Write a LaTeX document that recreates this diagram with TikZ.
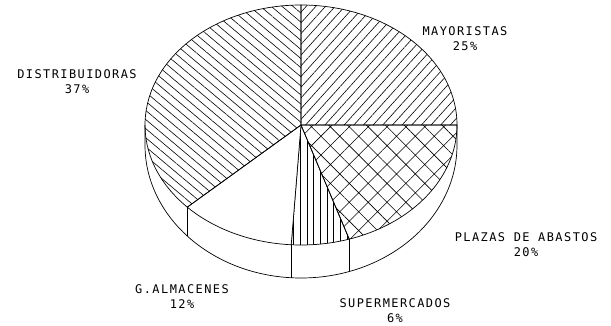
\documentclass[tikz,border=0pt]{standalone}
\usepackage{fontspec}
\usetikzlibrary{calc,patterns.meta}
\newfontfamily\plotfont[LetterSpace=12]{DejaVu Sans Mono}
\tikzset{
  slice/.style    = {draw, line width=0.7pt, line join=round},
  wall/.style     = {draw, line width=0.7pt, fill=white},
  pielabel/.style = {align=center, inner sep=0pt,
                     font=\plotfont\fontsize{12}{15}\selectfont},
  mayo/.style     = {slice, pattern={Lines[angle=48,distance=7.2pt,line width=0.6pt]}},
  plaza/.style    = {slice, pattern={Hatch[angle=45,distance=13.4pt,line width=0.6pt]}},
  super/.style    = {slice, pattern={Lines[angle=90,distance=6.7pt,line width=0.6pt]}},
  almac/.style    = {slice, fill=white},
  distri/.style   = {slice, pattern={Lines[angle=-40,distance=7pt,line width=0.6pt]}},
}

\begin{document}
\begin{tikzpicture}[x=1bp, y=1bp]
  \useasboundingbox (0,0) rectangle (611,325);
  \coordinate (c) at (301,200);
  \coordinate (w) at (301,180);

  % side of the pie
  \draw[wall] ($(c)+(180:156 and 120)$) -- ($(w)+(180:156 and 133)$)
    arc[start angle=180, end angle=360, x radius=156, y radius=133]
    -- ($(c)+(0:156 and 120)$);
  \foreach \a in {-136.8,-93.6,-72}
    \draw[line width=0.7pt] ($(c)+(\a:156 and 120)$) -- ($(w)+(\a:156 and 133)$);

  % slices
  \path[mayo]   (c) -- ($(c)+(90:156 and 120)$)
    arc[start angle=90, end angle=0, x radius=156, y radius=120] -- cycle;
  \path[plaza]  (c) -- ($(c)+(0:156 and 120)$)
    arc[start angle=0, end angle=-72, x radius=156, y radius=120] -- cycle;
  \path[super]  (c) -- ($(c)+(-72:156 and 120)$)
    arc[start angle=-72, end angle=-93.6, x radius=156, y radius=120] -- cycle;
  \path[almac]  (c) -- ($(c)+(-93.6:156 and 120)$)
    arc[start angle=-93.6, end angle=-136.8, x radius=156, y radius=120] -- cycle;
  \path[distri] (c) -- ($(c)+(-136.8:156 and 120)$)
    arc[start angle=-136.8, end angle=-270, x radius=156, y radius=120] -- cycle;

  % labels
  \node[pielabel] (mayoristas) at (465,286.5) {MAYORISTAS\\25\%};
  \node[pielabel] (distrib)    at (77,243.5)  {DISTRIBUIDORAS\\37\%};
  \node[pielabel] (plazas)     at (526,80.5)  {PLAZAS DE ABASTOS\\20\%};
  \node[pielabel] (almacenes)  at (182,28.5)  {G.ALMACENES\\12\%};
  \node[pielabel] (super)      at (395,14.5)  {SUPERMERCADOS\\6\%};
\end{tikzpicture}
\end{document}
